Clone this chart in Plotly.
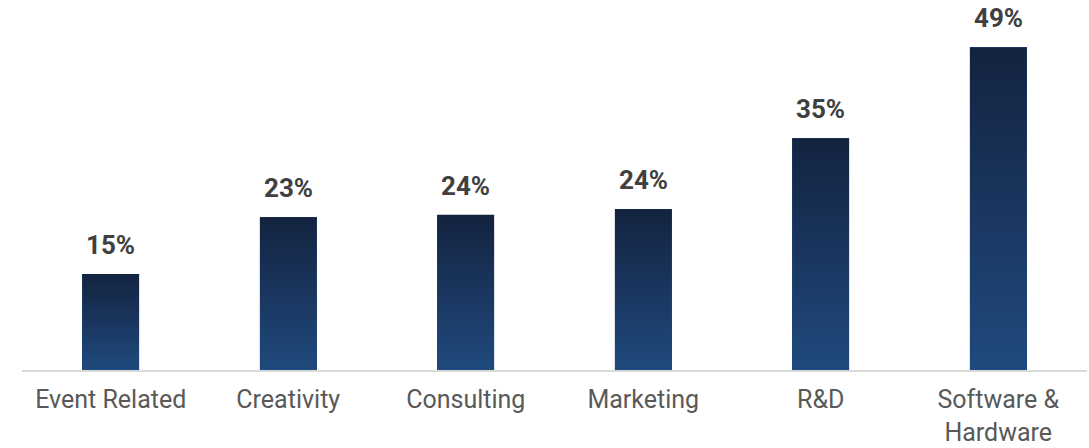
import plotly.graph_objects as go

# Share of respondents by area
categories = ["Event Related", "Creativity", "Consulting", "Marketing", "R&D", "Software &<br>Hardware"]
shares = [14.6, 23.2, 23.6, 24.4, 35.2, 49.0]

BAR_WIDTH = 0.32
TOP_COLOR = "#13233f"
BOTTOM_COLOR = "#1f4a7d"
LABEL_COLOR = "#404040"
TICK_COLOR = "#595959"
FONT = "Roboto, 'Open Sans', sans-serif"

positions = list(range(len(categories)))

fig = go.Figure()

# Base bars (solid), covered by the gradient fills below
fig.add_trace(go.Bar(
    x=positions, y=shares, width=BAR_WIDTH,
    marker=dict(color=BOTTOM_COLOR, line=dict(width=0)),
    hoverinfo="skip", showlegend=False,
))

# Vertical gradient fill for each bar, drawn from the same values
for pos, val in zip(positions, shares):
    left, right = pos - BAR_WIDTH / 2, pos + BAR_WIDTH / 2
    fig.add_trace(go.Scatter(
        x=[left, right, right, left, left],
        y=[0, 0, val, val, 0],
        mode="lines", line=dict(width=0),
        fill="toself",
        fillgradient=dict(
            type="vertical",
            colorscale=[[0, BOTTOM_COLOR], [0.5, "#1a365f"], [1, TOP_COLOR]],
        ),
        hoverinfo="skip", showlegend=False,
    ))

# Value labels above the bars
for pos, val in zip(positions, shares):
    fig.add_annotation(
        x=pos, y=val, text=f"{val:.0f}%", showarrow=False,
        yanchor="bottom", yshift=12,
        font=dict(family=FONT, size=26, color=LABEL_COLOR, weight="bold"),
    )

fig.update_layout(
    width=1089, height=448,
    margin=dict(l=22, r=2, t=0, b=78, autoexpand=False),
    paper_bgcolor="white", plot_bgcolor="white",
    bargap=0,
    xaxis=dict(
        range=[-0.5, len(categories) - 0.5],
        tickmode="array", tickvals=positions, ticktext=categories,
        showgrid=False, zeroline=False,
        showline=True, linecolor="#d9d9d9", linewidth=2,
        ticks="", ticklabelstandoff=6, automargin=False,
        tickfont=dict(family=FONT, size=25, color=TICK_COLOR),
        fixedrange=True,
    ),
    yaxis=dict(
        range=[0, 56.2], visible=False, fixedrange=True,
    ),
)

fig.write_html("out.html")
